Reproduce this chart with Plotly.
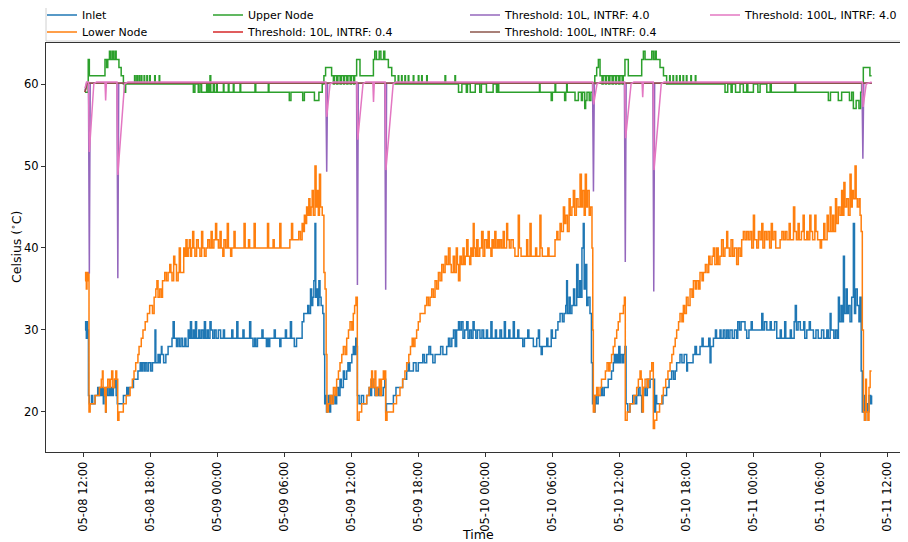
import pandas as pd
import plotly.graph_objects as go

# ---------------- data (hours after 05-08 12:00, °C) ----------------
START = "2019-05-08 12:00"

INLET = [
    (0.16,30),(0.22,31),(0.28,29),(0.34,31),(0.40,30),(0.47,22),(0.55,21),(0.75,22),(0.85,21),(1.06,22),(1.3,23),(1.4,22),
    (1.5,23),(1.6,22),(1.7,23),(1.8,21),(1.85,22),(2.01,20),(2.06,23),(2.15,22),(2.3,23),(2.4,22),(2.5,23),(2.6,22),(2.7,23),
    (2.85,24),(2.95,22),(3.05,21),(3.6,22),(3.9,23),(4.0,22),(4.1,23),(4.5,24),(4.9,25),(5.1,26),(5.2,25),(5.3,26),(5.45,25),
    (5.55,26),(5.7,25),(5.85,26),(6.05,25),(6.2,26),(6.43,30),(6.5,26),(6.7,27),(6.8,26),(6.9,27),(7.0,28),(7.05,27),(7.2,26),
    (7.4,27),(7.6,28),(7.95,29),(8.05,31),(8.15,29),(8.35,28),(8.45,29),(8.6,28),(8.75,29),(8.9,28),(9.1,29),(9.2,28),(9.4,30),
    (9.5,29),(9.6,31),(9.7,29),(9.85,30),(9.95,29),(10.05,31),(10.15,29),(10.35,30),(10.45,29),(10.6,30),(10.75,29),(10.85,31),
    (10.95,29),(11.1,30),(11.2,29),(11.35,31),(11.45,30),(11.6,29),(11.75,30),(11.9,29),(12.1,30),(12.3,29),(12.55,30),(12.65,29),
    (13.3,30),(13.4,29),(13.75,31),(13.85,29),(14.3,30),(14.4,29),(14.9,31),(15.0,29),(15.2,28),(15.35,29),(15.45,28),(15.6,29),
    (16.0,30),(16.1,29),(16.4,28),(16.5,29),(16.6,28),(16.7,29),(17.1,30),(17.2,29),(17.6,28),(17.7,29),(18.1,30),(18.2,29),
    (18.55,31),(18.65,29),(18.9,28),(19.1,29),(19.6,31),(19.75,32),(20.1,33),(20.2,32),(20.35,35),(20.45,33),(20.55,34),
    (20.65,36),(20.75,43),(20.82,34),(20.9,35),(21.0,33),(21.1,36),(21.2,34),(21.3,33),(21.45,32),(21.55,27),(21.62,21),
    (21.7,22),(21.78,20),
    (21.85,21),(21.95,22),(22.05,20),(22.15,22),(22.3,21),(22.45,22),(22.6,21),(22.69,23),(22.85,22),(22.99,24),(23.1,23),
    (23.29,25),(23.4,24),(23.59,25),(23.7,26),(23.8,25),(23.89,26),(24.05,27),(24.18,28),(24.3,27),(24.4,29),(24.5,28),
    (24.55,22),(24.7,21),(24.9,22),(25.1,21),(25.38,22),(25.6,23),(25.7,22),(25.82,24),(25.95,23),(26.12,22),(26.3,23),
    (26.45,22),(26.57,23),(26.7,22),(26.87,23),(27.0,24),(27.08,20),(27.15,21),(27.77,22),(28.0,23),(28.6,24),(28.96,25),
    (29.1,26),(29.2,25),(29.56,26),(29.8,25),(30.0,26),(30.4,27),(30.55,26),(30.75,27),(30.95,28),(31.1,27),(31.3,26),
    (31.5,27),(32.0,28),(32.2,27),(32.54,28),(32.7,29),(32.84,28),
    (33.0,29),(33.15,30),(33.3,28),(33.43,30),(33.6,31),(33.7,30),(33.85,31),(34.0,29),(34.15,30),(34.33,31),(34.45,29),
    (34.6,30),(34.75,29),(34.9,31),(35.0,30),(35.15,29),(35.3,30),(35.52,29),(35.7,30),(35.85,29),(36.1,30),(36.2,29),
    (36.5,31),(36.6,29),(36.9,30),(37.0,29),(37.31,30),(37.45,29),(37.7,31),(37.8,29),(38.1,30),(38.2,29),(38.5,31),
    (38.6,29),(38.9,30),(39.0,29),(39.35,28),(39.5,29),(39.8,30),(39.9,29),(40.3,28),(40.6,29),(40.75,30),(40.85,28),
    (41.0,27),(41.1,28),(41.5,29),(41.6,28),(41.9,30),(42.0,29),(42.3,30),(42.5,31),(42.69,32),(42.9,31),(43.05,32),
    (43.2,33),(43.28,36),(43.35,32),(43.5,34),(43.6,32),(43.75,33),(43.9,35),(44.0,33),(44.18,38),(44.3,34),(44.45,36),
    (44.55,34),(44.65,40),(44.77,43),(44.85,35),(44.95,38),(45.08,33),(45.2,34),(45.37,32),(45.5,26),(45.6,21),
    (45.67,21),(45.75,20),(45.82,22),(45.95,21),(46.1,22),(46.4,23),(46.5,22),(46.65,23),(47.0,24),(47.3,25),(47.46,26),
    (47.55,27),(47.65,26),(47.76,27),(47.85,26),(47.95,28),(48.05,26),(48.15,27),(48.3,26),(48.4,27),(48.5,28),(48.6,21),
    (48.75,20),(48.95,21),(49.2,22),(49.4,21),(49.55,22),(49.7,23),(49.85,22),(50.0,20),(50.07,22),(50.2,23),(50.35,22),
    (50.5,24),(50.6,23),(50.75,24),(51.15,20),(51.25,22),(51.34,21),(51.9,22),(52.23,23),(52.45,24),(52.68,25),(52.85,24),
    (53.0,25),(53.13,26),(53.43,27),(53.6,26),(53.8,27),(54.03,25),(54.1,26),(54.6,27),(54.77,28),(54.9,27),(55.22,28),
    (55.4,29),(55.5,28),(56.0,29),(56.12,26),(56.2,28),(56.42,29),(56.6,30),(56.7,29),(57.01,30),(57.1,29),(57.3,30),
    (57.45,29),(57.61,30),(57.75,29),(57.9,30),(58.1,29),(58.3,30),(58.5,29),(58.6,31),(58.75,30),(58.9,31),(59.25,30),
    (59.4,29),(59.6,30),(59.8,31),(59.9,30),(60.75,32),(60.85,30),(61.0,31),(61.2,30),(61.5,31),(61.6,30),(61.9,31),
    (62.09,29),(62.4,30),(62.5,29),(62.8,31),(62.9,29),(63.3,30),(63.4,29),(63.65,31),(63.75,33),(63.85,30),(64.0,31),
    (64.2,30),(64.5,31),(64.6,29),(64.78,30),(65.0,31),(65.1,30),(65.37,29),(65.6,30),(65.8,29),(66.1,30),(66.3,29),
    (66.57,30),(66.7,29),(66.87,32),(66.95,30),(67.2,29),(67.35,30),(67.5,29),(67.61,34),(67.7,31),(67.85,33),(67.95,31),
    (68.06,39),(68.15,32),(68.3,35),(68.4,32),(68.5,33),(68.65,31),(68.8,34),(68.95,43),(69.05,32),(69.15,35),(69.3,33),
    (69.45,31),(69.54,34),(69.65,25),(69.75,20),(69.85,22),(69.95,19),(70.05,21),(70.2,20),(70.35,22),(70.5,21),(70.58,22),
]

LOWER = [
    (0.16,36),(0.22,37),(0.28,35),(0.34,37),(0.40,36),(0.46,37),(0.52,20),(0.62,21),(1.06,22),(1.45,23),(1.62,24),(1.72,25),
    (1.78,23),(1.92,22),(2.0,20),(2.06,23),(2.2,24),(2.35,23),(2.45,24),(2.55,25),(2.65,23),(2.8,24),(2.92,25),(3.0,24),
    (3.09,19),(3.2,20),(3.59,21),(3.85,22),(4.2,23),(4.4,24),(4.55,25),(4.7,26),(4.9,27),(5.0,28),(5.2,29),(5.35,30),
    (5.55,31),(5.75,32),(5.95,33),(6.2,32),(6.35,34),(6.5,35),(6.6,36),(6.7,34),(6.85,35),(7.0,34),(7.1,36),(7.3,37),
    (7.45,36),(7.6,37),(7.75,38),(7.85,37),(7.95,36),(8.1,39),(8.2,38),(8.35,36),(8.5,37),(8.6,40),(8.7,37),(9.0,40),
    (9.1,39),(9.2,41),(9.3,39),(9.4,40),(9.5,41),(9.6,39),(9.7,40),(9.8,42),(9.9,40),(10.0,39),(10.15,41),(10.3,40),
    (10.45,39),(10.6,42),(10.7,40),(10.85,39),(11.0,40),(11.15,41),(11.3,40),(11.45,42),(11.55,40),(11.7,41),(11.85,43),
    (11.95,41),(12.1,40),(12.25,42),(12.35,40),(12.5,39),(12.6,41),(12.75,40),(12.9,43),(13.0,40),(13.2,39),(13.3,40),
    (13.5,42),(13.6,40),(14.4,43),(14.5,40),(14.8,41),(14.9,40),(15.3,43),(15.4,40),(16.5,43),(16.6,40),(17.0,41),(17.1,40),
    (17.6,43),(17.7,40),(18.5,41),(18.65,43),(18.75,41),(19.3,42),(19.45,41),(19.6,43),(19.7,42),(19.8,44),(19.9,43),
    (20.0,45),(20.1,44),(20.2,46),(20.3,44),(20.4,45),(20.5,47),(20.6,44),(20.75,50),(20.85,45),(20.95,47),(21.05,44),
    (21.15,49),(21.25,45),(21.4,44),(21.55,37),(21.65,35),(21.75,27),(21.82,20),
    (21.95,21),(22.1,22),(22.25,21),(22.4,23),(22.55,22),(22.69,24),(22.85,25),(22.99,26),(23.15,27),(23.29,28),(23.45,27),
    (23.59,29),(23.75,30),(23.89,31),(24.05,30),(24.18,32),(24.3,33),(24.42,34),(24.54,19),(24.7,20),(24.93,21),(25.38,22),
    (25.6,23),(25.75,24),(25.82,25),(25.9,23),(26.05,24),(26.12,25),(26.2,22),(26.35,23),(26.5,24),(26.57,22),(26.7,24),
    (26.87,25),(26.95,24),(27.02,25),(27.08,19),(27.2,20),(27.77,21),(28.05,22),(28.36,23),(28.6,24),(28.8,25),(28.96,26),
    (29.15,27),(29.3,28),(29.45,29),(29.56,28),(29.7,29),(29.85,30),(30.0,31),(30.16,32),(30.6,33),(30.75,34),(30.9,33),
    (31.05,34),(31.2,35),(31.35,34),(31.5,36),(31.65,35),(31.8,37),(31.95,36),(32.1,38),(32.25,37),(32.4,39),(32.54,38),
    (32.7,40),(32.84,38),(32.95,37),(33.13,39),(33.25,37),(33.4,40),(33.5,38),(33.6,36),(33.73,39),(33.85,38),(34.0,40),
    (34.1,38),(34.2,39),(34.33,41),(34.45,39),(34.6,38),(34.7,40),(34.8,39),(34.92,43),(35.0,40),(35.1,39),(35.22,41),
    (35.35,39),(35.5,40),(35.67,42),(35.8,39),(35.95,41),(36.12,40),(36.25,42),(36.35,40),(36.5,39),(36.6,41),(36.71,40),
    (36.85,42),(36.95,40),(37.1,41),(37.2,40),(37.31,41),(37.45,40),(37.6,42),(37.7,40),(37.91,43),(38.0,41),(38.15,40),
    (38.3,41),(38.5,40),(38.65,39),(38.95,44),(39.05,40),(39.2,39),(39.7,41),(39.8,39),(40.0,43),(40.1,39),(40.5,40),
    (40.6,39),(40.89,44),(40.98,40),(41.1,39),(41.6,40),(41.7,39),(42.24,41),(42.4,42),(42.5,41),(42.69,43),(42.8,42),
    (42.99,45),(43.1,43),(43.2,44),(43.35,42),(43.5,46),(43.6,44),(43.75,45),(43.88,47),(44.0,44),(44.15,46),(44.3,45),
    (44.48,49),(44.6,45),(44.7,47),(44.85,44),(44.95,49),(45.05,45),(45.15,47),(45.3,44),(45.4,45),(45.55,40),(45.62,30),
    (45.67,20),(45.8,22),(45.97,23),(46.1,22),(46.27,23),(46.4,24),(46.75,25),(46.9,26),(47.05,25),(47.16,26),(47.3,27),
    (47.45,28),(47.6,29),(47.76,30),(47.9,31),(48.05,32),(48.36,33),(48.45,34),(48.53,19),(48.7,20),(48.95,21),(49.3,22),
    (49.55,23),(49.7,24),(49.85,25),(49.95,24),(50.05,20),(50.15,23),(50.3,24),(50.5,23),(50.6,24),(50.75,25),(50.9,26),
    (51.04,18),(51.15,19),(51.35,20),(51.6,21),(51.8,22),(51.94,23),(52.15,24),(52.35,25),(52.54,26),(52.7,27),(52.85,28),
    (53.0,29),(53.13,30),(53.3,31),(53.43,32),(53.6,31),(53.73,33),(53.85,32),(54.0,34),(54.15,33),(54.33,35),(54.5,34),
    (54.63,36),(54.8,35),(54.93,36),(55.1,35),(55.22,37),(55.4,36),(55.52,37),(55.7,38),(55.85,37),(56.0,39),(56.12,38),
    (56.3,39),(56.42,40),(56.55,38),(56.72,40),(56.85,38),(57.0,39),(57.15,41),(57.3,39),(57.45,40),(57.61,42),(57.7,40),
    (57.85,39),(58.0,41),(58.15,39),(58.3,40),(58.5,38),(58.65,40),(58.81,39),(58.95,41),(59.1,42),(59.25,41),(59.4,42),
    (59.55,41),(59.7,42),(59.85,40),(60.0,44),(60.1,41),(60.3,40),(60.45,42),(60.6,41),(60.75,43),(60.85,40),(61.0,42),
    (61.15,41),(61.3,42),(61.45,40),(61.6,43),(61.7,41),(61.85,42),(62.0,40),(62.39,41),(62.55,42),(62.7,41),(62.85,42),
    (63.0,41),(63.2,43),(63.3,41),(63.59,45),(63.7,42),(63.85,41),(64.0,43),(64.1,41),(64.3,42),(64.45,44),(64.55,41),
    (64.78,42),(64.9,41),(65.05,44),(65.15,42),(65.3,41),(65.5,44),(65.6,42),(65.75,41),(65.98,40),(66.1,41),(66.3,43),
    (66.4,41),(66.6,44),(66.7,42),(66.87,45),(66.95,42),(67.1,44),(67.2,42),(67.35,46),(67.45,43),(67.6,45),(67.75,44),
    (67.9,47),(68.0,44),(68.1,48),(68.2,45),(68.35,46),(68.5,44),(68.65,49),(68.75,45),(68.85,47),(68.95,46),(69.1,50),
    (69.2,46),(69.3,45),(69.45,46),(69.55,44),(69.65,42),(69.75,30),(69.85,20),(69.95,19),(70.05,24),(70.12,20),(70.25,19),
    (70.35,23),(70.45,25),(70.58,25),
]

UPPER = [
    (0.16,59),(0.45,63),(0.55,61),(1.95,63),(2.1,62),(2.2,63),(2.35,64),(2.45,63),(2.6,64),(2.7,63),(2.85,64),(2.95,63),
    (3.2,62),(3.4,61),(3.6,60),(3.7,59),(3.8,60),(4.6,61),(4.65,60),(4.8,61),(4.85,60),(5.0,61),(5.05,60),(5.2,61),(5.25,60),
    (5.45,61),(5.5,60),(5.7,61),(5.75,60),(5.95,61),(6.0,60),(6.4,61),(6.45,60),(6.8,61),(6.85,60),(9.86,59),(10.0,60),
    (10.3,59),(10.45,60),(10.6,59),(11.05,60),(11.1,59),(11.2,60),(11.25,59),(11.35,61),(11.42,59),(11.65,60),(11.75,59),
    (11.95,60),(12.0,59),(12.55,60),(12.6,59),(12.99,60),(13.05,59),(13.44,60),(13.5,59),(14.04,60),(14.1,59),(15.38,60),
    (15.45,59),(16.57,60),(16.63,59),(18.45,58),(18.6,59),(19.65,58),(19.8,59),(20.7,58),(21.1,59),(21.4,60),(21.55,61),
    (21.7,62),(22.24,61),(22.4,60),(22.5,61),(22.7,60),(22.8,61),(23.0,60),(23.1,61),(23.3,60),(23.4,61),(23.6,60),(23.7,61),
    (23.9,60),(24.0,61),(24.2,60),(24.3,61),(24.48,63),(24.78,61),(25.98,63),(26.1,64),(26.25,63),(26.5,64),(26.65,63),
    (26.9,64),(27.0,63),(27.32,62),(27.62,61),(27.92,60),(28.2,61),(28.25,60),(28.5,61),(28.55,60),(28.8,61),(28.85,60),
    (29.1,61),(29.15,60),(29.55,61),(29.6,60),(30.0,61),(30.05,60),(30.3,61),(30.35,60),(30.75,61),(30.8,60),(32.39,61),
    (32.45,60),(33.28,61),(33.33,60),(33.6,59),(33.9,60),(34.3,59),(34.4,60),(34.65,59),(35.1,60),(35.5,59),(35.65,60),
    (36.1,59),(36.7,60),(37.0,59),(37.1,60),(37.2,59),(40.85,60),(40.9,59),(41.9,58),(42.0,59),(42.24,60),(42.3,59),
    (43.1,58),(43.2,59),(43.28,60),(43.33,59),(44.03,58),(44.33,59),(44.6,58),(44.7,59),(44.9,57),(44.98,58),(45.1,59),
    (45.3,58),(45.45,59),(45.67,60),(45.8,61),(45.97,62),(46.12,63),(46.27,61),(46.45,60),(46.55,61),(46.75,60),(46.85,61),
    (47.05,60),(47.15,61),(47.35,60),(47.45,61),(47.65,60),(47.75,61),(47.95,60),(48.05,61),(48.25,60),(48.35,61),(48.5,63),
    (48.8,61),(50.0,63),(50.15,64),(50.3,63),(50.9,64),(51.05,63),(51.2,64),(51.3,63),(51.64,62),(51.95,61),(52.23,60),
    (52.5,61),(52.55,60),(52.8,61),(52.85,60),(53.1,61),(53.15,60),(53.4,61),(53.45,60),(53.7,61),(53.75,60),(54.0,61),
    (54.05,60),(54.4,61),(54.45,60),(54.8,61),(54.85,60),(57.46,59),(57.7,60),(58.0,59),(58.1,60),(58.4,59),(58.8,60),
    (59.1,59),(59.4,60),(59.5,59),(60.0,60),(60.4,59),(60.6,60),(61.2,59),(61.5,60),(61.6,59),(63.71,60),(63.78,59),
    (66.71,58),(66.9,59),(67.6,58),(67.9,59),(68.6,58),(68.8,59),(68.95,57),(69.2,58),(69.45,57),(69.6,59),(69.69,60),
    (69.84,62),(70.43,61),(70.58,61),
]

THR_10L_04 = [(0.16,59.0),(0.35,60.1),(70.58,60.1)]
THR_100L_04 = [(0.16,59.0),(0.35,60.1),(70.58,60.1)]

THR_10L_40 = [
    (0.16,59.2),(0.3,60.1),(0.47,60.1),(0.55,36.9),(0.63,60.1),(3.02,60.1),(3.1,36.3),(3.18,60.1),(21.72,60.1),(21.8,49.3),
    (21.88,60.1),(24.47,60.1),(24.55,35.5),(24.63,60.1),(27.0,60.1),(27.08,34.9),(27.16,60.1),(45.6,60.1),(45.68,46.9),
    (45.76,60.1),(48.45,60.1),(48.53,38.3),(48.61,60.1),(51.0,60.1),(51.08,34.7),(51.16,60.1),(69.72,60.1),(69.8,50.9),
    (69.88,60.1),(70.58,60.1),
]

THR_100L_40 = [
    (0.16,59.5),(0.3,60.25),(0.47,60.25),(0.55,51.7),(0.95,60.0),(1.2,60.25),(1.95,60.25),(2.01,58.0),(2.08,60.25),
    (3.02,60.25),(3.1,48.9),(3.7,60.0),(4.0,60.25),(21.72,60.25),(21.8,56.0),(22.1,60.0),(22.4,60.25),(24.5,60.25),
    (24.58,53.2),(25.05,60.0),(25.3,60.25),(25.93,60.25),(25.99,57.8),(26.06,60.25),(27.03,60.25),(27.1,49.5),(27.75,60.0),
    (28.0,60.25),(45.62,60.25),(45.7,57.5),(46.0,60.0),(46.3,60.25),(48.48,60.25),(48.56,53.4),(49.05,60.0),(49.3,60.25),
    (50.03,60.25),(50.09,58.4),(50.15,60.25),(51.03,60.25),(51.1,49.5),(51.75,60.0),(52.0,60.25),(69.75,60.25),
    (69.82,57.2),(70.1,60.0),(70.58,60.25),
]

X_TICK_START = "2019-05-08 12:00"
Y_TICKS = [20, 30, 40, 50, 60]

# ---------------- figure ----------------
base = pd.Timestamp(START)


def split(series):
    t = [base + pd.Timedelta(hours=h) for h, _ in series]
    v = [c for _, c in series]
    return t, v


FONT = "DejaVu Sans"
specs = [
    ("Inlet", INLET, "#1f77b4", "hv", "legend"),
    ("Lower Node", LOWER, "#ff7f0e", "hv", "legend2"),
    ("Upper Node", UPPER, "#2ca02c", "hv", "legend3"),
    ("Threshold: 10L, INTRF: 0.4", THR_10L_04, "#d62728", "linear", "legend4"),
    ("Threshold: 10L, INTRF: 4.0", THR_10L_40, "#9467bd", "linear", "legend5"),
    ("Threshold: 100L, INTRF: 0.4", THR_100L_04, "#8c564b", "linear", "legend6"),
    ("Threshold: 100L, INTRF: 4.0", THR_100L_40, "#e377c2", "linear", "legend7"),
]

fig = go.Figure()
for name, s, col, shape, lg in specs:
    t, v = split(s)
    fig.add_trace(go.Scatter(x=t, y=v, mode="lines", name=name, legend=lg,
                             line=dict(color=col, width=1.5, shape=shape)))

# the page draws the figure 8px in from the top-left corner
OFF = 8
W, H = 908 - OFF, 542 - OFF
# plot area in page pixels: left 46, right 908, top 43, bottom 452
PAGE_L, PAGE_R, PAGE_T, PAGE_B = 46, 908, 43, 452
PL, PR, PT, PB = PAGE_L - OFF, PAGE_R - OFF, PAGE_T - OFF, PAGE_B - OFF
pw, ph = PR - PL, PB - PT


def px(page_x):
    return (page_x - OFF - PL) / pw


def py(page_y):
    return (PB - (page_y - OFF)) / ph


leg_pos = {
    "legend": (42, 15), "legend2": (42, 32),
    "legend3": (208, 15), "legend4": (208, 32),
    "legend5": (465, 15), "legend6": (465, 32),
    "legend7": (705, 15),
}
layout_legends = {}
for k, (lx, ly) in leg_pos.items():
    layout_legends[k] = dict(x=px(lx), y=py(ly), xanchor="left", yanchor="middle",
                             bgcolor="rgba(0,0,0,0)", borderwidth=0,
                             font=dict(family=FONT, size=11, color="#000"))

x0 = base + pd.Timedelta(hours=(PAGE_L - 83.2) / 11.17)
x1 = base + pd.Timedelta(hours=(PAGE_R - 83.2) / 11.17)

fig.update_layout(
    width=W, height=H,
    margin=dict(l=PL, r=W - PR, t=PT, b=H - PB, autoexpand=False),
    paper_bgcolor="white", plot_bgcolor="white",
    font=dict(family=FONT, size=11.5, color="#000"),
    showlegend=True,
    **layout_legends,
    xaxis=dict(type="date", range=[x0, x1], tick0=X_TICK_START, dtick=6 * 3600 * 1000,
               tickformat="%m-%d %H:%M", tickangle=-90, ticks="outside", ticklen=4,
               tickcolor="#333", showgrid=False, zeroline=False, showline=True,
               linecolor="#333", linewidth=1, mirror=True, automargin=False,
               tickfont=dict(size=11.5)),
    yaxis=dict(range=[15.12, 65.0], tickvals=Y_TICKS, ticks="outside", ticklen=4,
               tickcolor="#333", showgrid=False, zeroline=False, showline=True,
               linecolor="#333", linewidth=1, mirror=False, automargin=False,
               tickfont=dict(size=11.5)),
    shapes=[dict(type="rect", xref="paper", yref="paper", x0=0, x1=1,
                 y0=py(41), y1=py(4), line=dict(color="#d0d0d0", width=1),
                 fillcolor="rgba(255,255,255,0)", layer="below")],
    annotations=[
        dict(text="Time", xref="paper", yref="paper", x=px(478), y=py(534),
             xanchor="center", yanchor="middle", showarrow=False,
             font=dict(family=FONT, size=12.5, color="#000")),
        dict(text="Celsius (<sup>∘</sup>C)", xref="paper", yref="paper", x=px(16), y=py(247),
             xanchor="center", yanchor="middle", showarrow=False, textangle=-90,
             font=dict(family=FONT, size=12.5, color="#000")),
    ],
)

fig.write_html("out.html")
